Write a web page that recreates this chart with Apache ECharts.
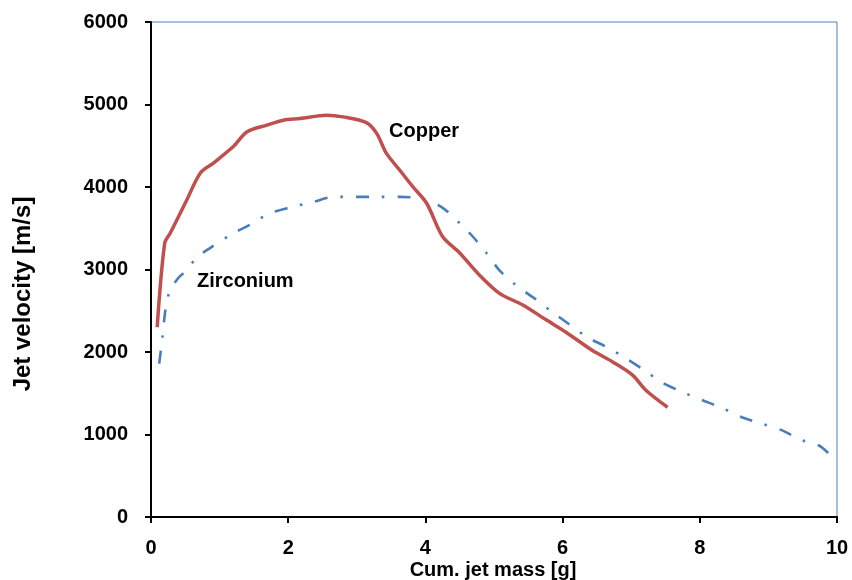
<!DOCTYPE html>
<html>
<head>
<meta charset="utf-8">
<script src="https://cdn.jsdelivr.net/npm/echarts@6/dist/echarts.min.js"></script>
<style>html,body{margin:0;padding:0;background:#fff}#c{width:852px;height:580px}</style>
</head>
<body>
<div id="c"></div>
<script>
const copperX = [0.09, 0.2, 0.28, 0.52, 0.72, 0.91, 1.2, 1.4, 1.69, 1.93, 2.17, 2.56, 2.8, 3.14, 3.29, 3.43, 3.63, 3.82, 4.02, 4.25, 4.5, 4.79, 5.08, 5.42, 5.76, 6.05, 6.43, 6.73, 7.02, 7.21, 7.53];
const copperY = [2300, 3320, 3440, 3840, 4170, 4290, 4490, 4670, 4750, 4810, 4830, 4870, 4850, 4780, 4650, 4410, 4200, 4000, 3800, 3400, 3200, 2930, 2710, 2570, 2390, 2240, 2020, 1880, 1720, 1540, 1330];
const zrX = [0.12, 0.17, 0.21, 0.27, 0.4, 0.52, 0.66, 0.86, 1.2, 1.44, 1.73, 2.07, 2.37, 2.66, 3.24, 3.63, 3.92, 4.23, 4.5, 4.69, 4.89, 5.08, 5.32, 5.59, 5.84, 6.09, 6.36, 6.64, 6.93, 7.17, 7.45, 7.73, 8.04, 8.33, 8.61, 8.91, 9.2, 9.49, 9.73, 9.88];
const zrY = [1860, 2200, 2510, 2730, 2900, 2990, 3140, 3260, 3440, 3540, 3680, 3760, 3820, 3880, 3880, 3880, 3860, 3760, 3560, 3400, 3200, 2990, 2810, 2650, 2490, 2340, 2180, 2060, 1920, 1790, 1630, 1520, 1415, 1320, 1210, 1130, 1050, 930, 870, 770];
const seriesNames = ['Copper', 'Zirconium'];
const labelAnchors = [[3.47, 4670], [0.67, 2860]];
const xTitle = 'Cum. jet mass [g]';
const yTitle = 'Jet velocity [m/s]';

const FONT = '"Liberation Sans", Arial, sans-serif';
const chart = echarts.init(document.getElementById('c'));
const zip = (a, b) => a.map((v, i) => [v, b[i]]);

chart.setOption({
  animation: false,
  grid: { left: 151, right: 15, top: 22, bottom: 63, show: true, borderColor: '#4F81BD', borderWidth: 1 },
  xAxis: {
    type: 'value', min: 0, max: 10, interval: 2,
    axisLine: { show: true, lineStyle: { color: '#000', width: 2 } },
    axisTick: { show: true, length: 6, lineStyle: { color: '#000', width: 2 } },
    axisLabel: { color: '#000', fontWeight: 'bold', fontSize: 20, fontFamily: FONT, margin: 21, formatter: v => String(v) },
    splitLine: { show: false }
  },
  yAxis: {
    type: 'value', min: 0, max: 6000, interval: 1000,
    axisLine: { show: true, lineStyle: { color: '#000', width: 2 } },
    axisTick: { show: true, length: 6, lineStyle: { color: '#000', width: 2 } },
    axisLabel: { color: '#000', fontWeight: 'bold', fontSize: 20, fontFamily: FONT, margin: 23, formatter: v => String(v) },
    splitLine: { show: false }
  },
  series: [
    {
      name: seriesNames[0], type: 'line', data: zip(copperX, copperY), smooth: 0.3,
      showSymbol: false, lineStyle: { color: '#C0504D', width: 3.5 }, z: 3
    },
    {
      name: seriesNames[1], type: 'line', data: zip(zrX, zrY), smooth: 0.3,
      showSymbol: false, lineStyle: { color: '#4A7EBB', width: 2.6, type: [13, 13, 2.5, 13], cap: 'butt' }, z: 2
    }
  ]
});

const p0 = chart.convertToPixel({ gridIndex: 0 }, labelAnchors[0]);
const p1 = chart.convertToPixel({ gridIndex: 0 }, labelAnchors[1]);
chart.setOption({
  graphic: [
    { type: 'text', x: p0[0], y: p0[1], style: { text: seriesNames[0], fill: '#000', font: 'bold 20px ' + FONT, verticalAlign: 'middle' } },
    { type: 'text', x: p1[0], y: p1[1], style: { text: seriesNames[1], fill: '#000', font: 'bold 20px ' + FONT, verticalAlign: 'middle' } },
    { type: 'text', x: 493, y: 570, style: { text: xTitle, fill: '#000', font: 'bold 20px ' + FONT, align: 'center', verticalAlign: 'middle' } },
    { type: 'text', x: 23, y: 294, rotation: Math.PI / 2, style: { text: yTitle, fill: '#000', font: 'bold 24px ' + FONT, align: 'center', verticalAlign: 'middle' } }
  ]
});
</script>
</body>
</html>
